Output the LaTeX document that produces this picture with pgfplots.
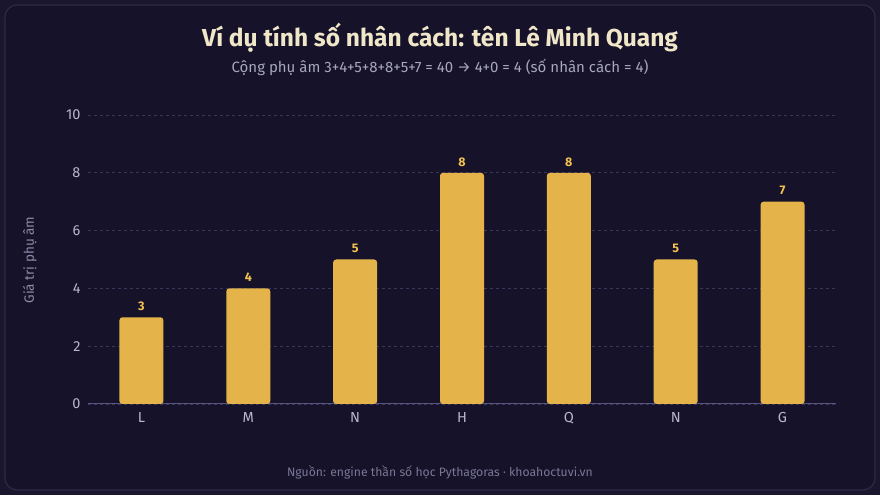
\documentclass[border=0pt]{standalone}
\usepackage{fontspec}
\setmainfont{Fira Sans}
\usepackage{pgfplots}
\pgfplotsset{compat=1.18}

\definecolor{bgout}{HTML}{19162E}
\definecolor{bgin}{HTML}{15122A}
\definecolor{frame}{HTML}{2E2A48}
\definecolor{titlec}{HTML}{F0E6C8}
\definecolor{subc}{HTML}{A8A5C0}
\definecolor{tickc}{HTML}{B8B5CC}
\definecolor{labc}{HTML}{8E8AA8}
\definecolor{srcc}{HTML}{7A7796}
\definecolor{gridc}{HTML}{3A3658}
\definecolor{axc}{HTML}{5A5580}
\definecolor{barc}{HTML}{E4B44A}
\definecolor{valc}{HTML}{F2C14E}

\begin{document}
\begin{tikzpicture}[x=1pt,y=1pt]
\path[use as bounding box, fill=bgout] (0,0) rectangle (880,495);
\draw[frame, fill=bgin, line width=1.2pt, rounded corners=12pt] (5,5) rectangle (875,490);

\node[text=titlec, font=\fontsize{24.5}{28}\selectfont\bfseries] at (440,457) {Ví dụ tính số nhân cách: tên Lê Minh Quang};
\node[text=subc, font=\fontsize{15}{18}\selectfont] at (440,428) {Cộng phụ âm 3+4+5+8+8+5+7 = 40 → 4+0 = 4 (số nhân cách = 4)};
\node[text=srcc, font=\fontsize{12.2}{14}\selectfont] at (440,23) {Nguồn: engine thần số học Pythagoras · khoahoctuvi.vn};
\node[text=labc, font=\fontsize{13.5}{16}\selectfont, rotate=90] at (30,235) {Giá trị phụ âm};

\begin{axis}[
  at={(88pt,91pt)}, anchor=south west,
  scale only axis, width=748pt, height=289pt,
  xmin=-0.5, xmax=6.5, ymin=0, ymax=10,
  xtick={0,...,6},
  xticklabels={L,M,N,H,Q,N,G},
  ytick={0,2,...,10},
  axis x line*=bottom, axis y line*=left,
  x axis line style={axc, line width=1pt, -},
  y axis line style={draw=none},
  major tick length=0pt,
  tick style={draw=none},
  ymajorgrids, grid style={gridc, dash pattern=on 3pt off 3pt, line width=0.6pt},
  /pgf/number format/assume math mode=true,
  tick label style={text=tickc, font=\fontsize{14.5}{17}\selectfont},
  xticklabel style={yshift=-5pt},
  yticklabel style={xshift=-4pt},
  ybar, bar width=44pt,
  nodes near coords,
  every node near coord/.append style={text=valc, font=\fontsize{12.5}{14}\selectfont\bfseries, yshift=3pt},
  clip=false,
]
\addplot[fill=barc, draw=none, rounded corners=3pt] coordinates {(0,3) (1,4) (2,5) (3,8) (4,8) (5,5) (6,7)};
\end{axis}
\end{tikzpicture}
\end{document}
